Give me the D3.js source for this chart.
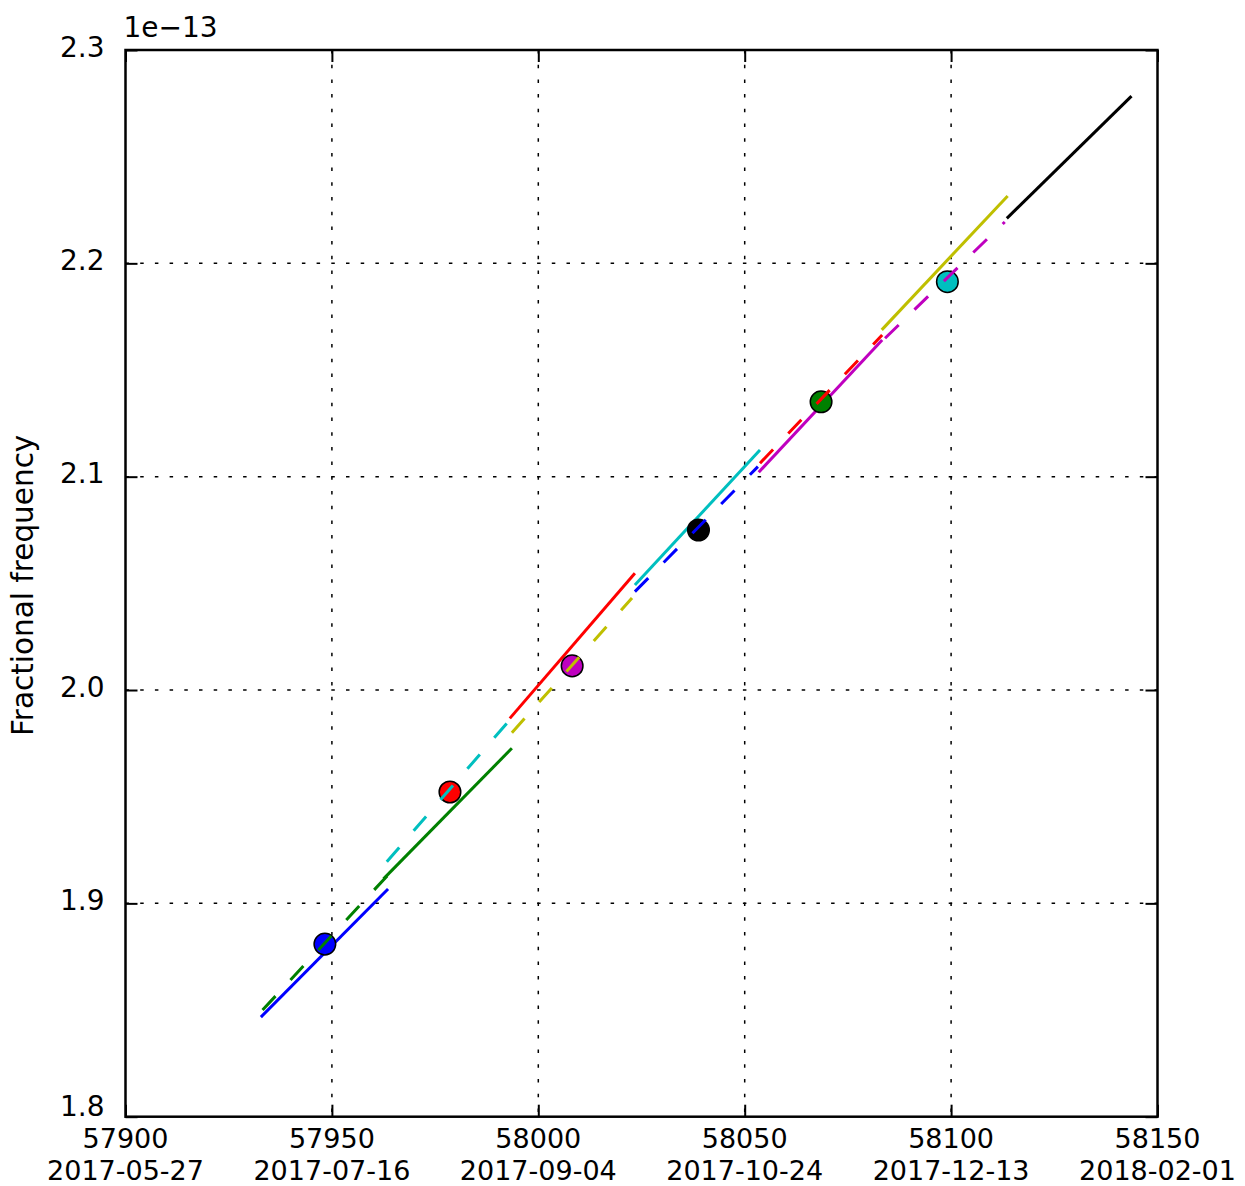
<!DOCTYPE html>
<html>
<head>
<meta charset="utf-8">
<script src="https://cdn.jsdelivr.net/npm/d3@7"></script>
<style>
  html, body { margin: 0; padding: 0; background: #fff; }
  text { font-family: "DejaVu Sans", sans-serif; fill: #000; }
</style>
</head>
<body>
<svg id="chart" width="1245" height="1186"></svg>
<script>
// ---- data (y values in units of 1e-13) ----
const xTicks = [57900, 57950, 58000, 58050, 58100, 58150];
const xTickDates = ["2017-05-27", "2017-07-16", "2017-09-04", "2017-10-24", "2017-12-13", "2018-02-01"];
const yTicks = [1.8, 1.9, 2.0, 2.1, 2.2, 2.3];
const yTickLabels = ["1.8", "1.9", "2.0", "2.1", "2.2", "2.3"];
const yLabel = "Fractional frequency";
const offsetLabel = "1e\u221213";

// solid fit segments
const solidColors = ["b", "g", "r", "c", "m", "y", "k"];
const solidX0 = [57932.8, 57962.5, 57993.1, 58023.4, 58053.4, 58083.2, 58113.5];
const solidX1 = [57963.6, 57993.6, 58023.4, 58053.7, 58083.3, 58113.7, 58143.7];
const solidY0 = [1.8467, 1.9115, 1.9867, 2.0492, 2.1021, 2.1688, 2.2211];
const solidY1 = [1.9067, 1.9727, 2.0547, 2.1125, 2.1641, 2.2316, 2.2784];

// dashed extrapolated segments
const dashColors = ["g", "c", "y", "b", "r", "m"];
const dashX0 = [57933.2, 57963.3, 57993.6, 58023.4, 58053.7, 58084.0];
const dashX1 = [57963.6, 57993.1, 58022.7, 58053.2, 58083.3, 58113.0];
const dashY0 = [1.8500, 1.9195, 1.9800, 2.0461, 2.1063, 2.1649];
const dashY1 = [1.9133, 1.9860, 2.0431, 2.1047, 2.1664, 2.2194];

// points
const pointColors = ["b", "r", "m", "k", "g", "c"];
const pointX = [57948.3, 57978.6, 58008.2, 58038.8, 58068.5, 58099.1];
const pointY = [1.8809, 1.9522, 2.0113, 2.0750, 2.1351, 2.1914];

// ---- styling ----
const colorMap = { b: "#0000ff", g: "#008000", r: "#ff0000", c: "#00bfbf", m: "#bf00bf", y: "#bfbf00", k: "#000000" };
const m = { left: 125.5, right: 1157.5, top: 50, bottom: 1116.7 };

const svg = d3.select("#chart");
const x = d3.scaleLinear().domain([57900, 58150]).range([m.left, m.right]);
const y = d3.scaleLinear().domain([1.8, 2.3]).range([m.bottom, m.top]);

// grid
const grid = svg.append("g");
grid.selectAll("line.gx").data(xTicks.slice(1, -1)).enter().append("line")
  .attr("x1", d => x(d)).attr("x2", d => x(d))
  .attr("y1", m.top).attr("y2", m.bottom)
  .attr("stroke", "#000").attr("stroke-width", 1.5).attr("stroke-dasharray", "3.5,11.2");
grid.selectAll("line.gy").data(yTicks.slice(1, -1)).enter().append("line")
  .attr("y1", d => y(d)).attr("y2", d => y(d))
  .attr("x1", m.left).attr("x2", m.right)
  .attr("stroke", "#000").attr("stroke-width", 1.5).attr("stroke-dasharray", "3.5,11.2");

const plot = svg.append("g");
const line = d3.line().x(d => x(d[0])).y(d => y(d[1]));

// solid lines
solidColors.forEach((c, i) => {
  plot.append("path")
    .attr("d", line([[solidX0[i], solidY0[i]], [solidX1[i], solidY1[i]]]))
    .attr("stroke", colorMap[c]).attr("stroke-width", 3).attr("fill", "none");
});
// points
pointColors.forEach((c, i) => {
  plot.append("circle")
    .attr("cx", x(pointX[i])).attr("cy", y(pointY[i])).attr("r", 10.8)
    .attr("fill", colorMap[c]).attr("stroke", "#000").attr("stroke-width", 1.5);
});
// dashed lines
dashColors.forEach((c, i) => {
  plot.append("path")
    .attr("d", line([[dashX0[i], dashY0[i]], [dashX1[i], dashY1[i]]]))
    .attr("stroke", colorMap[c]).attr("stroke-width", 3).attr("fill", "none")
    .attr("stroke-dasharray", "19,22");
});

// axes with inward ticks on all four sides
const tickLen = 12;
const axB = svg.append("g").attr("transform", `translate(0,${m.bottom})`)
  .call(d3.axisBottom(x).tickValues(xTicks).tickSizeInner(-tickLen).tickSizeOuter(0).tickFormat(""));
const axT = svg.append("g").attr("transform", `translate(0,${m.top})`)
  .call(d3.axisTop(x).tickValues(xTicks).tickSizeInner(-tickLen).tickSizeOuter(0).tickFormat(""));
const axL = svg.append("g").attr("transform", `translate(${m.left},0)`)
  .call(d3.axisLeft(y).tickValues(yTicks).tickSizeInner(-tickLen).tickSizeOuter(0).tickFormat(""));
const axR = svg.append("g").attr("transform", `translate(${m.right},0)`)
  .call(d3.axisRight(y).tickValues(yTicks).tickSizeInner(-tickLen).tickSizeOuter(0).tickFormat(""));
[axB, axT, axL, axR].forEach(a => {
  a.select(".domain").remove();
  a.selectAll(".tick line").attr("stroke", "#000").attr("stroke-width", 2);
});

// frame
svg.append("rect")
  .attr("x", m.left).attr("y", m.top)
  .attr("width", m.right - m.left).attr("height", m.bottom - m.top)
  .attr("fill", "none").attr("stroke", "#000").attr("stroke-width", 2.5);

// x tick labels (two lines)
const xl = svg.append("g");
xTicks.forEach((t, i) => {
  const tx = xl.append("text").attr("text-anchor", "middle").attr("font-size", 27);
  tx.append("tspan").attr("x", x(t)).attr("y", m.bottom + 31.5).text(String(t));
  tx.append("tspan").attr("x", x(t)).attr("y", m.bottom + 63).text(xTickDates[i]);
});

// y tick labels (lowest one sits slightly higher, clear of the x labels)
svg.append("g").selectAll("text").data(yTicks).enter().append("text")
  .attr("x", m.left - 21).attr("y", d => y(d) + (d === yTicks[0] ? -7.7 : 0)).attr("dy", "0.24em")
  .attr("text-anchor", "end").attr("font-size", 28)
  .text((d, i) => yTickLabels[i]);

// offset text
svg.append("text").attr("x", m.left - 2).attr("y", m.top - 13)
  .attr("font-size", 28).text(offsetLabel);

// y label
svg.append("text")
  .attr("transform", `translate(33,${(m.top + m.bottom) / 2 + 2}) rotate(-90)`)
  .attr("text-anchor", "middle").attr("font-size", 29.5)
  .text(yLabel);
</script>
</body>
</html>
